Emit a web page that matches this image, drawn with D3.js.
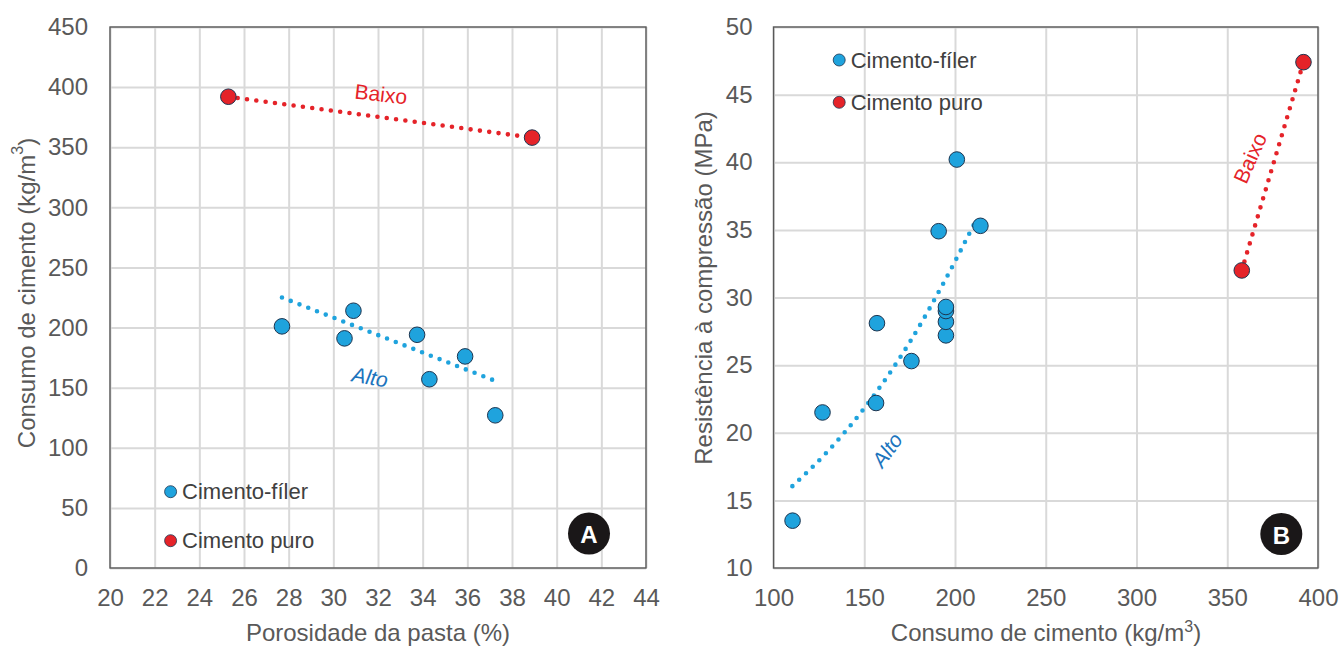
<!DOCTYPE html>
<html lang="pt">
<head>
<meta charset="utf-8">
<script src="https://cdn.jsdelivr.net/npm/d3@7"></script>
<style>
  html, body { margin: 0; padding: 0; background: #fff; }
  svg { display: block; }
  text { font-family: "Liberation Sans", Arial, Helvetica, sans-serif; }
</style>
</head>
<body>
<svg id="chart" width="1341" height="648"></svg>
<script>
// ---- Painel A: porosidade da pasta x consumo de cimento ----
const porosidadeFiler = [27.7, 30.9, 30.5, 33.75, 35.9, 34.3, 37.25];
const consumoFilerA   = [201, 214, 191, 194, 176, 157, 127];
const porosidadePuro  = [25.3, 38.9];
const consumoPuroA    = [392, 358];
const tendenciaFilerA = [[27.7, 225], [37.2, 156]];
const tendenciaPuroA  = [[25.3, 392], [38.9, 358]];
const ticksXA = d3.range(20, 45, 2);
const ticksYA = d3.range(0, 451, 50);

// ---- Painel B: consumo de cimento x resistência à compressão ----
const consumoFilerB     = [110.5, 127, 156.5, 157, 176, 191, 195, 195, 195, 195, 201, 214];
const resistenciaFilerB = [13.5, 21.5, 22.2, 28.1, 25.3, 34.9, 27.2, 28.2, 29.0, 29.3, 40.2, 35.3];
const consumoPuroB      = [358, 392];
const resistenciaPuroB  = [32.0, 47.4];
const tendenciaFilerB   = [[110.4, 16.05], [129.7, 18.6], [150.5, 21.9], [175.1, 26.7], [194.6, 31.3], [210.8, 35.5]];
const tendenciaPuroB    = [[358, 32.0], [392, 47.4]];
const ticksXB = d3.range(100, 401, 50);
const ticksYB = d3.range(10, 51, 5);

const legendaSeries = ["Cimento-fíler", "Cimento puro"];

const COR = {
  azul: "#1fa3dd", azulTexto: "#1b74bd", vermelho: "#e52329",
  contorno: "#1d3550", grade: "#d9d9d9", borda: "#595959", texto: "#595959",
  legenda: "#404040"
};

const svg = d3.select("#chart");
svg.append("rect").attr("width", 1341).attr("height", 648).attr("fill", "#fff");

function painel(cfg) {
  const g = svg.append("g");
  const x = d3.scaleLinear().domain(cfg.xDom).range([cfg.left, cfg.right]);
  const y = d3.scaleLinear().domain(cfg.yDom).range([cfg.bottom, cfg.top]);
  const w = cfg.right - cfg.left, h = cfg.bottom - cfg.top;

  // grade
  g.append("g").attr("transform", `translate(0,${cfg.bottom})`)
    .call(d3.axisBottom(x).tickValues(cfg.xTicks).tickSize(-h).tickFormat(""))
    .call(s => s.select(".domain").remove())
    .call(s => s.selectAll("line").attr("stroke", COR.grade).attr("stroke-width", 2));
  g.append("g").attr("transform", `translate(${cfg.left},0)`)
    .call(d3.axisLeft(y).tickValues(cfg.yTicks).tickSize(-w).tickFormat(""))
    .call(s => s.select(".domain").remove())
    .call(s => s.selectAll("line").attr("stroke", COR.grade).attr("stroke-width", 2));

  // moldura
  g.append("rect").attr("x", cfg.left).attr("y", cfg.top).attr("width", w).attr("height", h)
    .attr("fill", "none").attr("stroke", COR.borda).attr("stroke-width", 1.4);

  // rótulos dos eixos
  g.append("g").attr("transform", `translate(0,${cfg.bottom})`)
    .call(d3.axisBottom(x).tickValues(cfg.xTicks).tickSize(0).tickPadding(20.5).tickFormat(d3.format("d")))
    .call(s => s.select(".domain").remove())
    .call(s => s.selectAll("text").attr("fill", COR.texto).style("font-size", "24px"));
  g.append("g").attr("transform", `translate(${cfg.left},0)`)
    .call(d3.axisLeft(y).tickValues(cfg.yTicks).tickSize(0).tickPadding(cfg.yPad).tickFormat(d3.format("d")))
    .call(s => s.select(".domain").remove())
    .call(s => s.selectAll("text").attr("fill", COR.texto).style("font-size", "24px"));

  // títulos
  const tx = g.append("text").attr("x", cfg.xTitleX).attr("y", 641).attr("text-anchor", "middle")
    .attr("fill", COR.texto).style("font-size", "24px");
  cfg.xTitle(tx);
  const ty = g.append("text").attr("transform", `translate(${cfg.yTitleX},${cfg.yTitleY}) rotate(-90)`)
    .attr("text-anchor", "middle").attr("dominant-baseline", "central")
    .attr("fill", COR.texto).style("font-size", "24px");
  cfg.yTitle(ty);

  // linhas de tendência pontilhadas
  const linha = d3.line().x(d => x(d[0])).y(d => y(d[1]));
  cfg.trends.forEach(t => {
    g.append("path").attr("d", linha.curve(t.curve || d3.curveLinear)(t.pts))
      .attr("fill", "none").attr("stroke", t.cor).attr("stroke-width", 4.6)
      .attr("stroke-linecap", "round").attr("stroke-dasharray", "0 9.4");
  });

  // pontos
  cfg.series.forEach(sr => {
    g.append("g").selectAll("circle").data(d3.zip(sr.xs, sr.ys)).join("circle")
      .attr("cx", d => x(d[0])).attr("cy", d => y(d[1])).attr("r", 7.8)
      .attr("fill", sr.cor).attr("stroke", COR.contorno).attr("stroke-width", 1);
  });

  // anotações Alto / Baixo
  cfg.notes.forEach(n => {
    g.append("text").attr("transform", `translate(${n.px},${n.py}) rotate(${n.rot})`)
      .attr("text-anchor", "middle").attr("dominant-baseline", "central")
      .attr("fill", n.cor).style("font-size", "21px").style("font-style", n.italic ? "italic" : "normal")
      .text(n.txt);
  });

  // legenda
  const leg = g.append("g");
  legendaSeries.forEach((nome, i) => {
    const cy = cfg.legY + i * cfg.legStep;
    leg.append("circle").attr("cx", cfg.legX).attr("cy", cy).attr("r", 6)
      .attr("fill", i === 0 ? COR.azul : COR.vermelho).attr("stroke", COR.contorno).attr("stroke-width", 0.8);
    leg.append("text").attr("x", cfg.legX + 11.5).attr("y", cy).attr("dominant-baseline", "central")
      .attr("fill", COR.legenda).style("font-size", "22px").text(nome);
  });

  // selo do painel
  g.append("circle").attr("cx", cfg.badge[0]).attr("cy", cfg.badge[1]).attr("r", 21).attr("fill", "#1a1718");
  g.append("text").attr("x", cfg.badge[0]).attr("y", cfg.badge[1] + 1).attr("text-anchor", "middle")
    .attr("dominant-baseline", "central").attr("fill", "#fff").style("font-size", "24px")
    .style("font-weight", "bold").text(cfg.badgeTxt);

  return { x, y };
}

painel({
  left: 110, right: 646, top: 27, bottom: 568,
  xDom: [20, 44], yDom: [0, 450], xTicks: ticksXA, yTicks: ticksYA, yPad: 22,
  xTitleX: 378, yTitleX: 26, yTitleY: 293,
  xTitle: t => t.text("Porosidade da pasta (%)"),
  yTitle: t => { t.append("tspan").text("Consumo de cimento (kg/m");
                 t.append("tspan").attr("dy", -9).style("font-size", "16px").text("3");
                 t.append("tspan").attr("dy", 9).text(")"); },
  trends: [
    { pts: tendenciaPuroA, cor: COR.vermelho },
    { pts: tendenciaFilerA, cor: COR.azul }
  ],
  series: [
    { xs: porosidadeFiler, ys: consumoFilerA, cor: COR.azul },
    { xs: porosidadePuro, ys: consumoPuroA, cor: COR.vermelho }
  ],
  notes: [
    { txt: "Baixo", px: 381, py: 94, rot: 6.5, cor: COR.vermelho, italic: false },
    { txt: "Alto", px: 370, py: 377, rot: 10, cor: COR.azulTexto, italic: true }
  ],
  legX: 170.6, legY: 491.7, legStep: 49,
  badge: [589, 533.5], badgeTxt: "A"
});

painel({
  left: 773.5, right: 1318, top: 27, bottom: 568,
  xDom: [100, 400], yDom: [10, 50], xTicks: ticksXB, yTicks: ticksYB, yPad: 21,
  xTitleX: 1046, yTitleX: 703, yTitleY: 288,
  xTitle: t => { t.append("tspan").text("Consumo de cimento (kg/m");
                 t.append("tspan").attr("dy", -9).style("font-size", "16px").text("3");
                 t.append("tspan").attr("dy", 9).text(")"); },
  yTitle: t => t.text("Resistência à compressão (MPa)"),
  trends: [
    { pts: tendenciaPuroB, cor: COR.vermelho },
    { pts: tendenciaFilerB, cor: COR.azul, curve: d3.curveMonotoneX }
  ],
  series: [
    { xs: consumoFilerB, ys: resistenciaFilerB, cor: COR.azul },
    { xs: consumoPuroB, ys: resistenciaPuroB, cor: COR.vermelho }
  ],
  notes: [
    { txt: "Baixo", px: 1250, py: 158, rot: -66, cor: COR.vermelho, italic: false },
    { txt: "Alto", px: 887, py: 450, rot: -54, cor: COR.azulTexto, italic: true }
  ],
  legX: 839.2, legY: 60, legStep: 42.3,
  badge: [1281.3, 534], badgeTxt: "B"
});
</script>
</body>
</html>
